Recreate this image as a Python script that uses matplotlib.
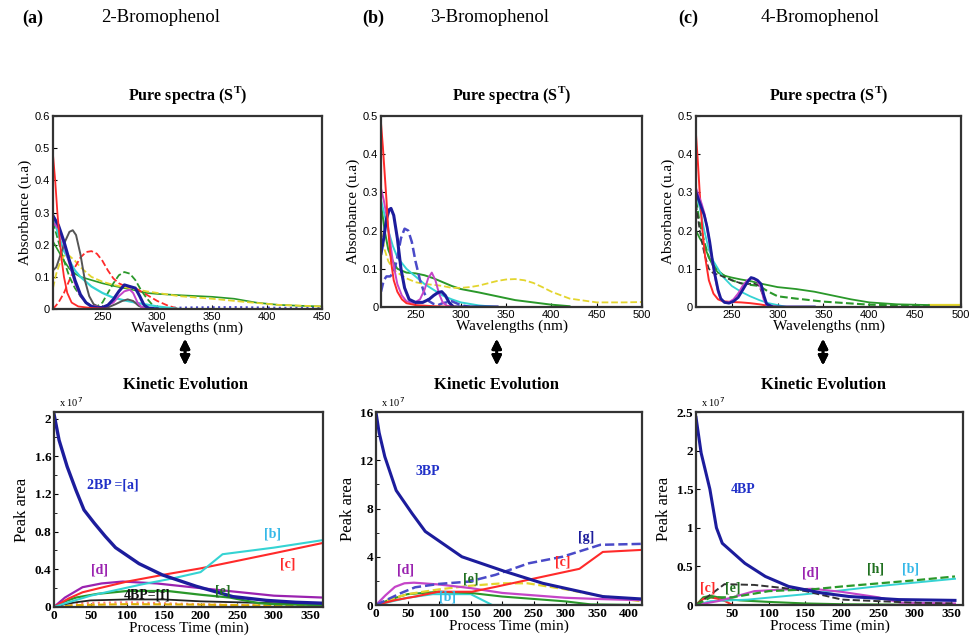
import matplotlib
matplotlib.use("Agg")
import matplotlib.pyplot as plt

plt.rcParams['font.family'] = ['Liberation Serif', 'DejaVu Serif']

# couleurs
ROUGE = '#ff2a2a'
MARINE = '#1c1c9c'
CYAN = '#35d3d3'
VERT = '#2a982a'
MAGENTA = '#c545c8'
JAUNE = '#e3d52e'
GRIS = '#555555'
BLEU = '#4a4ac8'

# ---------------- spectres purs (a) 2-bromophenol ----------------
a_rouge_x = [205, 207, 209, 211, 213, 215, 218, 222, 228, 240, 260, 330]
a_rouge_y = [0.48, 0.40, 0.30, 0.22, 0.15, 0.10, 0.05, 0.02, 0.008, 0.003, 0.0, 0.0]
a_rouge_tir_x = [205, 210, 215, 220, 225, 230, 235, 240, 245, 250, 255, 260, 265, 270, 280, 290, 300, 310, 320]
a_rouge_tir_y = [0.0, 0.02, 0.05, 0.09, 0.13, 0.16, 0.177, 0.18, 0.172, 0.15, 0.12, 0.095, 0.08, 0.072, 0.065, 0.045, 0.025, 0.01, 0.0]
a_gris_x = [205, 208, 212, 216, 220, 223, 226, 230, 234, 238, 242, 248, 255, 262, 268, 273, 278, 283, 290]
a_gris_y = [0.12, 0.13, 0.17, 0.21, 0.24, 0.245, 0.23, 0.17, 0.09, 0.04, 0.015, 0.005, 0.005, 0.015, 0.025, 0.03, 0.025, 0.01, 0.0]
a_vert_tir_x = [205, 210, 215, 220, 225, 230, 235, 240, 245, 250, 255, 260, 265, 270, 275, 280, 285, 290, 295, 300]
a_vert_tir_y = [0.27, 0.21, 0.15, 0.10, 0.065, 0.04, 0.02, 0.01, 0.008, 0.02, 0.05, 0.08, 0.105, 0.115, 0.11, 0.09, 0.06, 0.035, 0.015, 0.005]
a_vert_x = [205, 210, 215, 220, 225, 230, 240, 250, 260, 270, 280, 290, 300, 320, 350, 370, 390, 410, 430, 450]
a_vert_y = [0.21, 0.18, 0.15, 0.125, 0.11, 0.10, 0.09, 0.08, 0.072, 0.065, 0.058, 0.05, 0.047, 0.043, 0.038, 0.032, 0.02, 0.013, 0.01, 0.008]
a_jaune_x = [205, 208, 212, 216, 220, 225, 230, 240, 250, 260, 270, 280, 290, 300, 320, 350, 380, 410, 450]
a_jaune_y = [0.065, 0.11, 0.15, 0.17, 0.165, 0.15, 0.13, 0.10, 0.085, 0.075, 0.068, 0.062, 0.055, 0.05, 0.04, 0.032, 0.022, 0.013, 0.008]
a_cyan_x = [205, 210, 215, 220, 225, 230, 240, 250, 260, 270, 280, 290, 300, 310, 320]
a_cyan_y = [0.29, 0.23, 0.18, 0.15, 0.12, 0.10, 0.07, 0.05, 0.035, 0.027, 0.02, 0.014, 0.008, 0.004, 0.0]
a_marine_x = [205, 210, 215, 220, 225, 230, 235, 240, 245, 250, 255, 260, 265, 270, 275, 280, 284, 288, 292, 300]
a_marine_y = [0.29, 0.26, 0.21, 0.15, 0.09, 0.045, 0.02, 0.008, 0.004, 0.005, 0.012, 0.03, 0.055, 0.075, 0.07, 0.065, 0.04, 0.012, 0.003, 0.0]
a_magenta_x = [205, 210, 215, 220, 225, 230, 235, 240, 250, 260, 265, 270, 275, 278, 282, 286, 295, 330]
a_magenta_y = [0.27, 0.25, 0.20, 0.14, 0.08, 0.04, 0.02, 0.01, 0.005, 0.02, 0.04, 0.055, 0.06, 0.05, 0.02, 0.005, 0.0, 0.0]
a_bleu_x = [290, 330, 370, 410, 450]
a_bleu_y = [0.002, 0.005, 0.006, 0.004, 0.003]

# ---------------- spectres purs (b) 3-bromophenol ----------------
b_rouge_x = [212, 214, 216, 218, 220, 223, 226, 230, 235, 240, 250, 270, 300, 415]
b_rouge_y = [0.48, 0.42, 0.35, 0.28, 0.20, 0.12, 0.07, 0.04, 0.02, 0.01, 0.005, 0.002, 0.0, 0.0]
b_magenta_x = [212, 215, 218, 221, 225, 230, 235, 240, 248, 255, 260, 264, 268, 272, 276, 280, 285, 295, 490]
b_magenta_y = [0.31, 0.28, 0.24, 0.19, 0.12, 0.06, 0.03, 0.015, 0.01, 0.02, 0.045, 0.075, 0.09, 0.07, 0.035, 0.012, 0.003, 0.0, 0.0]
b_marine_x = [212, 215, 218, 221, 223, 226, 230, 234, 238, 243, 250, 258, 265, 270, 275, 279, 283, 287, 292, 340]
b_marine_y = [0.14, 0.18, 0.23, 0.255, 0.258, 0.24, 0.18, 0.10, 0.05, 0.02, 0.012, 0.012, 0.02, 0.03, 0.038, 0.04, 0.03, 0.012, 0.0, 0.0]
b_bleu_tir_x = [212, 215, 218, 222, 226, 230, 234, 238, 242, 246, 250, 255, 260, 265, 270, 275, 280, 290, 300, 310]
b_bleu_tir_y = [0.04, 0.07, 0.08, 0.08, 0.09, 0.13, 0.18, 0.205, 0.20, 0.17, 0.12, 0.07, 0.035, 0.015, 0.008, 0.005, 0.01, 0.015, 0.005, 0.0]
b_cyan_x = [212, 216, 220, 225, 230, 240, 250, 260, 270, 280, 290, 300, 320, 340, 460]
b_cyan_y = [0.28, 0.24, 0.20, 0.16, 0.13, 0.10, 0.08, 0.06, 0.045, 0.03, 0.02, 0.012, 0.004, 0.0, 0.0]
b_vert_x = [212, 216, 220, 225, 230, 240, 250, 260, 270, 280, 290, 300, 320, 340, 360, 380, 400, 420]
b_vert_y = [0.27, 0.20, 0.15, 0.12, 0.10, 0.09, 0.088, 0.083, 0.075, 0.065, 0.055, 0.047, 0.038, 0.028, 0.018, 0.012, 0.006, 0.002]
b_jaune_x = [212, 216, 220, 225, 230, 240, 250, 260, 270, 280, 290, 300, 310, 320, 330, 340, 350, 360, 370, 380, 390, 400, 420, 450, 480, 500]
b_jaune_y = [0.20, 0.15, 0.12, 0.10, 0.09, 0.075, 0.065, 0.06, 0.058, 0.055, 0.05, 0.05, 0.052, 0.056, 0.062, 0.068, 0.072, 0.073, 0.07, 0.063, 0.052, 0.04, 0.022, 0.012, 0.012, 0.013]

# ---------------- spectres purs (c) 4-bromophenol ----------------
c_rouge_x = [211, 213, 215, 218, 221, 225, 230, 235, 240, 250, 260, 270, 280, 290, 300]
c_rouge_y = [0.45, 0.38, 0.30, 0.20, 0.13, 0.07, 0.035, 0.02, 0.015, 0.013, 0.012, 0.01, 0.007, 0.003, 0.0]
c_pic_x = [211, 214, 217, 220, 223, 226, 229, 232, 235, 238, 242, 247, 252, 257, 262, 267, 271, 274, 278, 282, 285, 288, 295, 340]
c_marine_y = [0.30, 0.28, 0.26, 0.24, 0.21, 0.17, 0.12, 0.08, 0.045, 0.022, 0.012, 0.01, 0.015, 0.025, 0.045, 0.065, 0.077, 0.075, 0.07, 0.06, 0.03, 0.008, 0.0, 0.0]
c_magenta_y = [0.31, 0.29, 0.27, 0.245, 0.21, 0.165, 0.115, 0.075, 0.04, 0.02, 0.012, 0.012, 0.02, 0.035, 0.055, 0.07, 0.075, 0.074, 0.068, 0.05, 0.02, 0.005, 0.0, 0.0]
c_cyan_x = [211, 215, 220, 225, 230, 235, 240, 250, 260, 270, 280, 290, 300, 310]
c_cyan_y = [0.30, 0.26, 0.20, 0.15, 0.12, 0.10, 0.08, 0.055, 0.04, 0.028, 0.018, 0.01, 0.005, 0.0]
c_vert_x = [211, 215, 220, 225, 230, 235, 240, 250, 260, 270, 280, 290, 300, 320, 340, 360, 380, 400, 430, 465]
c_vert_y = [0.20, 0.18, 0.16, 0.13, 0.105, 0.09, 0.083, 0.077, 0.072, 0.068, 0.062, 0.057, 0.052, 0.047, 0.04, 0.03, 0.02, 0.012, 0.007, 0.005]
c_vert_tir_x = [211, 215, 220, 225, 230, 235, 240, 250, 260, 270, 280, 290, 300, 320, 350, 400, 450, 465]
c_vert_tir_y = [0.28, 0.22, 0.17, 0.13, 0.11, 0.095, 0.085, 0.07, 0.062, 0.058, 0.055, 0.04, 0.028, 0.022, 0.014, 0.006, 0.003, 0.003]
c_noir_tir_x = [211, 215, 220, 225, 230, 235, 240, 250, 260, 268, 272, 276, 280, 284, 288]
c_noir_tir_y = [0.27, 0.20, 0.14, 0.10, 0.088, 0.085, 0.08, 0.07, 0.062, 0.06, 0.062, 0.06, 0.055, 0.03, 0.005]
c_jaune_x = [465, 500]
c_jaune_y = [0.005, 0.005]

# ---------------- cinetiques (a) ----------------
ka_2bp_t = [0, 7, 18, 30, 41, 55, 70, 84, 116, 148, 194, 244, 290, 330, 367]
ka_2bp = [2.05, 1.77, 1.49, 1.24, 1.03, 0.89, 0.75, 0.63, 0.46, 0.34, 0.22, 0.11, 0.07, 0.05, 0.04]
ka_b_t = [0, 20, 50, 85, 120, 160, 200, 230, 300, 367]
ka_b = [0, 0.05, 0.12, 0.18, 0.24, 0.30, 0.37, 0.56, 0.63, 0.71]
ka_c_t = [0, 20, 39, 62, 100, 153, 200, 244, 300, 367]
ka_c = [0, 0.09, 0.156, 0.2, 0.27, 0.347, 0.41, 0.48, 0.57, 0.68]
ka_d_t = [0, 15, 39, 65, 94, 140, 200, 250, 300, 367]
ka_d = [0, 0.1, 0.21, 0.25, 0.27, 0.25, 0.2, 0.16, 0.12, 0.1]
ka_e_t = [0, 15, 30, 60, 100, 155, 200, 240, 280, 300, 367]
ka_e = [0, 0.06, 0.1, 0.14, 0.17, 0.17, 0.13, 0.1, 0.04, 0.03, 0.02]
ka_f_t = [0, 15, 30, 50, 100, 150, 200, 250, 300, 367]
ka_f = [0, 0.03, 0.05, 0.07, 0.08, 0.08, 0.06, 0.05, 0.04, 0.03]
ka_jaune_t = [0, 30, 100, 200, 300, 367]
ka_jaune = [0, 0.02, 0.03, 0.025, 0.015, 0.01]
ka_rose_t = [0, 30, 100, 150, 250, 367]
ka_rose = [0, 0.04, 0.05, 0.04, 0.02, 0.01]

# ---------------- cinetiques (b) ----------------
kb_3bp_t = [0, 5, 14, 32, 57, 78, 136, 203, 264, 359, 421]
kb_3bp = [16, 14.3, 12.3, 9.5, 7.6, 6.1, 4.0, 2.8, 1.8, 0.7, 0.5]
kb_g_t = [0, 20, 40, 62, 100, 147, 189, 242, 295, 355, 421]
kb_g = [0, 0.5, 1.0, 1.47, 1.75, 1.94, 2.5, 3.46, 4.0, 4.99, 5.07]
kb_c_t = [0, 30, 62, 99, 152, 189, 242, 322, 359, 421]
kb_c = [0, 0.4, 0.7, 1.1, 1.1, 1.5, 2.1, 3.0, 4.4, 4.57]
kb_d_t = [0, 15, 30, 45, 60, 100, 150, 200, 250, 300, 350, 421]
kb_d = [0, 0.8, 1.5, 1.8, 1.85, 1.7, 1.4, 1.0, 0.8, 0.6, 0.5, 0.4]
kb_jaune_t = [0, 25, 50, 100, 150, 200, 240, 300, 350, 421]
kb_jaune = [0, 0.5, 0.9, 1.3, 1.6, 1.8, 1.8, 1.3, 0.8, 0.3]
kb_e_t = [0, 25, 50, 100, 150, 200, 250, 300, 340, 421]
kb_e = [0, 0.5, 0.9, 1.1, 1.0, 0.7, 0.5, 0.3, 0.05, 0.0]
kb_b_t = [0, 25, 50, 90, 150, 184, 421]
kb_b = [0, 0.3, 0.6, 0.9, 0.9, 0.0, 0.0]

# ---------------- cinetiques (c) ----------------
kc_4bp_t = [0, 7, 19, 28, 36, 67, 95, 127, 173, 210, 278, 355]
kc_4bp = [2.43, 1.97, 1.5, 1.0, 0.8, 0.54, 0.37, 0.24, 0.155, 0.11, 0.07, 0.06]
kc_b_t = [0, 20, 71, 150, 200, 256, 300, 355]
kc_b = [0, 0.05, 0.07, 0.14, 0.19, 0.25, 0.29, 0.34]
kc_h_t = [0, 20, 50, 100, 164, 200, 250, 300, 355]
kc_h = [0, 0.1, 0.1, 0.18, 0.207, 0.24, 0.28, 0.32, 0.37]
kc_noir_t = [0, 15, 39, 80, 120, 150, 200, 250, 300, 355]
kc_noir = [0, 0.1, 0.27, 0.26, 0.22, 0.18, 0.07, 0.05, 0.03, 0.02]
kc_d_t = [0, 30, 50, 80, 120, 160, 200, 250, 280, 355]
kc_d = [0, 0.05, 0.1, 0.18, 0.2, 0.21, 0.17, 0.1, 0.03, 0.02]
kc_c_t = [0, 10, 20, 30, 40, 50, 355]
kc_c = [0, 0.08, 0.1, 0.08, 0.05, 0.0, 0.0]
kc_e_t = [0, 10, 20, 40, 60, 100, 150, 200, 355]
kc_e = [0, 0.1, 0.12, 0.08, 0.06, 0.04, 0.02, 0.01, 0.0]


fig = plt.figure(figsize=(9.74, 6.39), dpi=100)

def style_axe(ax, serif_ticks):
    ax.tick_params(direction='in', length=3, width=0.8, top=False, right=False, pad=2)
    ax.tick_params(which='minor', direction='in', length=2)
    for s in ax.spines.values():
        s.set_linewidth(1.6)
        s.set_color('#333333')
    for lab in ax.get_xticklabels() + ax.get_yticklabels():
        if serif_ticks:
            lab.set_fontfamily('Liberation Serif')
            lab.set_fontweight('bold')
            lab.set_fontsize(9.5)
        else:
            lab.set_fontfamily('Liberation Sans')
            lab.set_fontsize(8)

def spectre(ax, x, y, c, ls='-', lw=1.2):
    ax.plot(x, y, color=c, ls=ls, lw=lw)

# ---- haut
ax1 = fig.add_axes([0.0544, 0.5164, 0.2762, 0.302])
spectre(ax1, a_bleu_x, a_bleu_y, BLEU, ':', 1.5)
spectre(ax1, a_vert_x, a_vert_y, VERT)
spectre(ax1, a_jaune_x, a_jaune_y, JAUNE, '--', 1.3)
spectre(ax1, a_rouge_tir_x, a_rouge_tir_y, ROUGE, '--', 1.3)
spectre(ax1, a_vert_tir_x, a_vert_tir_y, VERT, '--', 1.3)
spectre(ax1, a_cyan_x, a_cyan_y, CYAN, '-', 1.6)
spectre(ax1, a_gris_x, a_gris_y, GRIS, '-', 1.4)
spectre(ax1, a_magenta_x, a_magenta_y, MAGENTA, '-', 1.4)
spectre(ax1, a_marine_x, a_marine_y, MARINE, '-', 2.2)
spectre(ax1, a_rouge_x, a_rouge_y, ROUGE, '-', 1.3)
ax1.set_xlim(205, 450)
ax1.set_ylim(0, 0.6)
ax1.set_xticks([250, 300, 350, 400, 450])
ax1.set_yticks([0, 0.1, 0.2, 0.3, 0.4, 0.5, 0.6])
ax1.set_yticklabels(['0', '0.1', '0.2', '0.3', '0.4', '0.5', '0.6'])

ax2 = fig.add_axes([0.3912, 0.5196, 0.268, 0.2989])
spectre(ax2, b_vert_x, b_vert_y, VERT, '-', 1.4)
spectre(ax2, b_jaune_x, b_jaune_y, JAUNE, '--', 1.3)
spectre(ax2, b_cyan_x, b_cyan_y, CYAN, '-', 1.4)
spectre(ax2, b_bleu_tir_x, b_bleu_tir_y, BLEU, '--', 1.8)
spectre(ax2, b_magenta_x, b_magenta_y, MAGENTA, '-', 1.4)
spectre(ax2, b_marine_x, b_marine_y, MARINE, '-', 2.2)
spectre(ax2, b_rouge_x, b_rouge_y, ROUGE, '-', 1.4)
ax2.set_xlim(212, 500)
ax2.set_ylim(0, 0.5)
ax2.set_xticks([250, 300, 350, 400, 450, 500])
ax2.set_yticks([0, 0.1, 0.2, 0.3, 0.4, 0.5])
ax2.set_yticklabels(['0', '0.1', '0.2', '0.3', '0.4', '0.5'])

ax3 = fig.add_axes([0.7146, 0.5196, 0.2721, 0.2989])
spectre(ax3, c_jaune_x, c_jaune_y, JAUNE, '-', 1.6)
spectre(ax3, c_vert_x, c_vert_y, VERT, '-', 1.3)
spectre(ax3, c_vert_tir_x, c_vert_tir_y, VERT, '--', 1.5)
spectre(ax3, c_cyan_x, c_cyan_y, CYAN, '-', 1.3)
spectre(ax3, c_noir_tir_x, c_noir_tir_y, '#333333', '--', 1.2)
spectre(ax3, c_rouge_x, c_rouge_y, ROUGE, '-', 1.4)
spectre(ax3, c_pic_x, c_magenta_y, MAGENTA, '-', 1.6)
spectre(ax3, c_pic_x, c_marine_y, MARINE, '-', 2.0)
ax3.set_xlim(211, 500)
ax3.set_ylim(0, 0.5)
ax3.set_xticks([250, 300, 350, 400, 450, 500])
ax3.set_yticks([0, 0.1, 0.2, 0.3, 0.4, 0.5])
ax3.set_yticklabels(['0', '0.1', '0.2', '0.3', '0.4', '0.5'])

for ax in (ax1, ax2, ax3):
    style_axe(ax, False)
    ax.set_xlabel('Wavelengths (nm)', fontsize=11, labelpad=0)
    ax.set_ylabel('Absorbance (u.a)', fontsize=11, labelpad=2)

# ---- bas
bx1 = fig.add_axes([0.0554, 0.0501, 0.2762, 0.3052])
bx1.plot(ka_rose_t, ka_rose, color='#ff8080', ls=':', lw=1.5)
bx1.plot(ka_jaune_t, ka_jaune, color='#e0b000', ls='--', lw=1.5)
bx1.plot(ka_f_t, ka_f, color='#222222', lw=1.3)
bx1.plot(ka_e_t, ka_e, color=VERT, lw=1.6)
bx1.plot(ka_d_t, ka_d, color='#9a22b0', lw=1.6)
bx1.plot(ka_c_t, ka_c, color=ROUGE, lw=1.5)
bx1.plot(ka_b_t, ka_b, color=CYAN, lw=1.5)
bx1.plot(ka_2bp_t, ka_2bp, color=MARINE, lw=2.4)
bx1.set_xlim(0, 367)
bx1.set_ylim(0, 2.07)
bx1.set_xticks([0, 50, 100, 150, 200, 250, 300, 350])
bx1.set_yticks([0, 0.4, 0.8, 1.2, 1.6, 2])
bx1.set_yticks([0.2, 0.6, 1.0, 1.4, 1.8], minor=True)
bx1.set_yticklabels(['0', '0.4', '0.8', '1.2', '1.6', '2'])
bx1.text(45, 1.26, '2BP =[a]', color='#2030c8', fontsize=10, fontweight='bold')
bx1.text(287, 0.74, '[b]', color='#35b8e8', fontsize=10, fontweight='bold')
bx1.text(308, 0.42, '[c]', color=ROUGE, fontsize=10, fontweight='bold')
bx1.text(50, 0.36, '[d]', color='#9a22b0', fontsize=10, fontweight='bold')
bx1.text(220, 0.13, '[e]', color='#207020', fontsize=10, fontweight='bold')
bx1.text(95, 0.09, '4BP=[f]', color='#111111', fontsize=10, fontweight='bold')

bx2 = fig.add_axes([0.386, 0.0532, 0.2731, 0.302])
bx2.plot(kb_b_t, kb_b, color=CYAN, lw=1.5)
bx2.plot(kb_e_t, kb_e, color=VERT, lw=1.5)
bx2.plot(kb_jaune_t, kb_jaune, color=JAUNE, ls='--', lw=1.6)
bx2.plot(kb_d_t, kb_d, color=MAGENTA, lw=1.6)
bx2.plot(kb_c_t, kb_c, color=ROUGE, lw=1.5)
bx2.plot(kb_g_t, kb_g, color=BLEU, ls='--', lw=1.8)
bx2.plot(kb_3bp_t, kb_3bp, color=MARINE, lw=2.2)
bx2.set_xlim(0, 421)
bx2.set_ylim(0, 16)
bx2.set_xticks([0, 50, 100, 150, 200, 250, 300, 350, 400])
bx2.set_yticks([0, 4, 8, 12, 16])
bx2.set_yticks([2, 6, 10, 14], minor=True)
bx2.text(62, 10.8, '3BP', color='#2030c8', fontsize=10, fontweight='bold')
bx2.text(320, 5.3, '[g]', color=MARINE, fontsize=10, fontweight='bold')
bx2.text(283, 3.3, '[c]', color=ROUGE, fontsize=10, fontweight='bold')
bx2.text(33, 2.6, '[d]', color='#9a22b0', fontsize=10, fontweight='bold')
bx2.text(137, 1.9, '[e]', color='#207020', fontsize=10, fontweight='bold')
bx2.text(99, 0.4, '[b]', color='#35b8e8', fontsize=10, fontweight='bold')

bx3 = fig.add_axes([0.7146, 0.0532, 0.2741, 0.302])
bx3.plot(kc_e_t, kc_e, color=VERT, lw=1.5)
bx3.plot(kc_c_t, kc_c, color=ROUGE, lw=1.5)
bx3.plot(kc_b_t, kc_b, color=CYAN, lw=1.4)
bx3.plot(kc_d_t, kc_d, color=MAGENTA, lw=1.5)
bx3.plot(kc_noir_t, kc_noir, color='#333333', ls='--', lw=1.4)
bx3.plot(kc_h_t, kc_h, color=VERT, ls='--', lw=1.6)
bx3.plot(kc_4bp_t, kc_4bp, color=MARINE, lw=2.2)
bx3.set_xlim(0, 366)
bx3.set_ylim(0, 2.5)
bx3.set_xticks([50, 100, 150, 200, 250, 300, 350])
bx3.set_yticks([0, 0.5, 1, 1.5, 2, 2.5])
bx3.set_yticklabels(['0', '0.5', '1', '1.5', '2', '2.5'])
bx3.text(48, 1.45, '4BP', color='#2030c8', fontsize=10, fontweight='bold')
bx3.text(235, 0.42, '[h]', color='#207020', fontsize=10, fontweight='bold')
bx3.text(282, 0.42, '[b]', color='#35b8e8', fontsize=10, fontweight='bold')
bx3.text(145, 0.37, '[d]', color='#9a22b0', fontsize=10, fontweight='bold')
bx3.text(6, 0.17, '[c]', color=ROUGE, fontsize=10, fontweight='bold')
bx3.text(40, 0.17, '[e]', color='#207020', fontsize=10, fontweight='bold')

for ax in (bx1, bx2, bx3):
    style_axe(ax, True)
    ax.set_xlabel('Process Time (min)', fontsize=11, labelpad=0)
    ax.set_ylabel('Peak area', fontsize=12, labelpad=3)
    ax.text(0.02, 1.015, r'x 10$^{7}$', transform=ax.transAxes, fontsize=7.5, va='bottom')

# ---- titres et fleches
panneaux = [('(a)', '2-Bromophenol', 0.0226, 0.165, 0.193, 0.19),
            ('(b)', '3-Bromophenol', 0.372, 0.503, 0.525, 0.51),
            ('(c)', '4-Bromophenol', 0.696, 0.842, 0.851, 0.845)]
for lettre, nom, xl, xn, xs, xk in panneaux:
    fig.text(xl, 0.972, lettre, fontsize=13, fontweight='bold', ha='left', va='center')
    fig.text(xn, 0.972, nom, fontsize=13.5, ha='center', va='center')
    fig.text(xs, 0.851, r'Pure spectra (S$^\mathregular{T}$)', fontsize=11.5, fontweight='bold',
             ha='center', va='center')
    fig.text(xk, 0.398, 'Kinetic Evolution', fontsize=12, fontweight='bold', ha='center', va='center')
    fig.add_artist(plt.annotate('', xy=(xk, 0.424), xytext=(xk, 0.474), xycoords='figure fraction',
                                textcoords='figure fraction',
                                arrowprops=dict(arrowstyle='<|-|>', color='black', lw=2.0,
                                                mutation_scale=14)))

fig.savefig('out.png', dpi=100)
